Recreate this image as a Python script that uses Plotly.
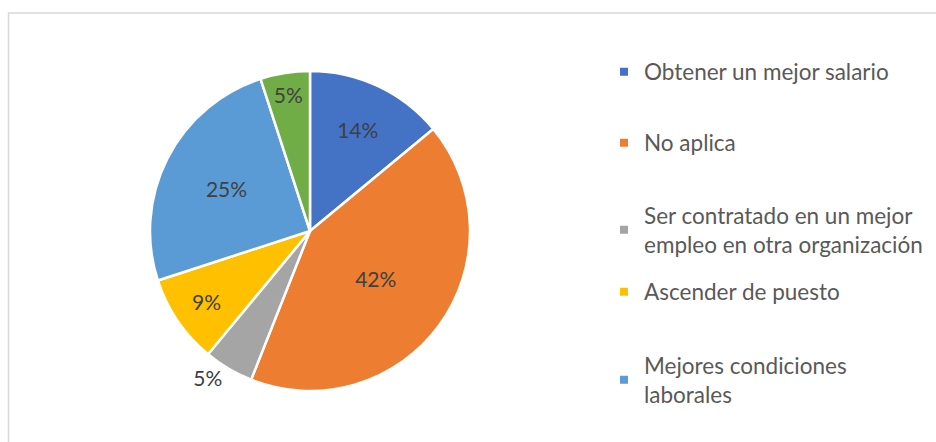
import plotly.graph_objects as go

labels = ["Obtener un mejor salario", "No aplica",
          "Ser contratado en un mejor<br>empleo en otra organización",
          "Ascender de puesto", "Mejores condiciones<br>laborales", "Otro"]
values = [14, 42, 5, 9, 25, 5]
colors = ["#4472C4", "#ED7D31", "#A5A5A5", "#FFC000", "#5B9BD5", "#70AD47"]
text_positions = ["inside", "inside", "outside", "inside", "inside", "inside"]
legend_count = 5
legend_centers_px = [72, 143, 230, 292, 380]

W, H = 936, 442
FONT = "Lato"

fig = go.Figure()
fig.add_trace(go.Pie(
    labels=labels, values=values, sort=False, direction="clockwise", rotation=0,
    marker=dict(colors=colors, line=dict(color="white", width=2.5)),
    textinfo="percent", texttemplate="%{percent:.0%}",
    textposition=text_positions, insidetextorientation="horizontal",
    textfont=dict(family=FONT, size=21, color="#404040"),
    showlegend=False, hoverinfo="label+percent",
    domain=dict(x=[150 / W, 470 / W], y=[1 - 391 / H, 1 - 71 / H]),
))

layout_legends = {}
for i in range(legend_count):
    key = "legend" if i == 0 else f"legend{i + 1}"
    fig.add_trace(go.Scatter(
        x=[None], y=[None], mode="markers", name=labels[i],
        legend=key,
        marker=dict(symbol="square", size=8, color=colors[i]),
    ))
    layout_legends[key] = dict(
        x=604 / W, y=1 - legend_centers_px[i] / H, xanchor="left", yanchor="middle",
        font=dict(family=FONT, size=22.5, color="#595959"),
        bgcolor="rgba(0,0,0,0)")

fig.update_layout(
    width=W, height=H, margin=dict(l=0, r=0, t=0, b=0),
    paper_bgcolor="white", plot_bgcolor="white",
    xaxis=dict(visible=False), yaxis=dict(visible=False),
    shapes=[dict(type="rect", xref="paper", yref="paper",
                 x0=8.5 / W, x1=1.05, y0=-0.05, y1=1 - 13 / H,
                 line=dict(color="#D9D9D9", width=1.5))],
    **layout_legends,
)

fig.write_html("out.html", config={"displayModeBar": False},
               post_script="document.body.style.margin='0';")
